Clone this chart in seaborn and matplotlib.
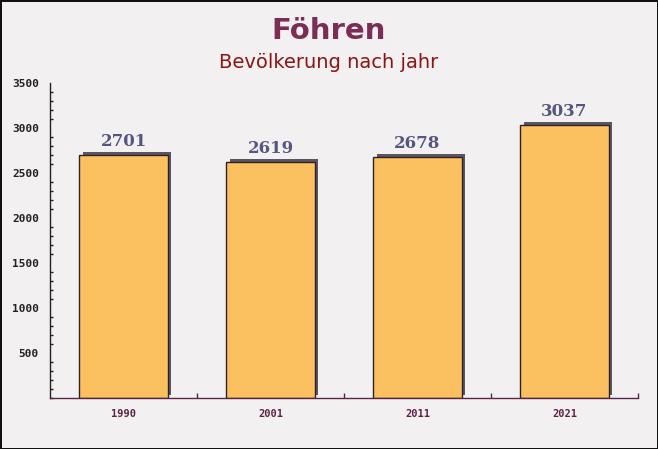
import matplotlib
matplotlib.use("Agg")
import matplotlib.pyplot as plt
import matplotlib.patheffects as pe
from matplotlib.ticker import MultipleLocator, FixedLocator
import pandas as pd
import seaborn as sns

years = ["1990", "2001", "2011", "2021"]
population = [2701, 2619, 2678, 3037]
y_ticks = [500, 1000, 1500, 2000, 2500, 3000, 3500]

title = "Föhren"
subtitle = "Bevölkerung nach jahr"

bg = "#f3f0f2"
bar_color = "#fbc060"
axis_color = "#5a2444"

df = pd.DataFrame({"jahr": years, "einwohner": population})

sns.set_style("white")
plt.rcParams["font.family"] = ["DejaVu Sans"]

fig = plt.figure(figsize=(6.58, 4.49), dpi=100)
fig.patch.set_facecolor(bg)
fig.patch.set_edgecolor("#111111")
fig.patch.set_linewidth(1.0)

ax = fig.add_axes([50 / 658, 51 / 449, 588 / 658, 315 / 449])
ax.set_facecolor("none")

sns.barplot(data=df, x="jahr", y="einwohner", color=bar_color, width=0.6,
            saturation=1, edgecolor="#2e2228", linewidth=1.0, ax=ax)

# drop shadow up and to the right of each bar
shadow = [pe.SimplePatchShadow(offset=(2.3, 2.2), shadow_rgbFace="#5a5560", alpha=1.0),
          pe.Normal()]
for bar in ax.patches:
    bar.set_path_effects(shadow)

for i, v in enumerate(population):
    ax.annotate(str(v), (i, v), xytext=(0, 3.5), textcoords="offset points",
                ha="center", va="bottom", fontsize=12, fontweight="bold",
                family="DejaVu Serif", color="#55557f")

ax.set_xlim(-0.5, len(years) - 0.5)
ax.set_ylim(0, 3500)
ax.yaxis.set_major_locator(FixedLocator(y_ticks))
ax.yaxis.set_minor_locator(MultipleLocator(100))
ax.tick_params(axis="y", which="major", direction="in", length=4, width=1,
               color="#222222", labelsize=8, labelcolor="#222222", pad=8)
ax.tick_params(axis="y", which="minor", direction="in", length=2.5, width=1,
               color="#222222", left=True)
for lab in ax.get_yticklabels():
    lab.set_family("DejaVu Sans Mono")
    lab.set_fontweight("bold")

ax.xaxis.set_minor_locator(FixedLocator([0.5, 1.5, 2.5, 3.5]))
ax.tick_params(axis="x", which="major", length=0, labelsize=7.5,
               labelcolor=axis_color, pad=8)
ax.tick_params(axis="x", which="minor", direction="in", length=3.5, width=1,
               color=axis_color, bottom=True)
for lab in ax.get_xticklabels():
    lab.set_family("DejaVu Sans Mono")
    lab.set_fontweight("bold")

ax.set_xlabel("")
ax.set_ylabel("")
for side in ["top", "right"]:
    ax.spines[side].set_visible(False)
ax.spines["left"].set_color("#222222")
ax.spines["bottom"].set_color(axis_color)
ax.spines["left"].set_linewidth(1)
ax.spines["bottom"].set_linewidth(1)

fig.text(0.5, 1 - 31 / 449, title, ha="center", va="center", fontsize=21,
         fontweight="bold", color="#7b2d55")
fig.text(0.5, 1 - 62 / 449, subtitle, ha="center", va="center", fontsize=14,
         color="#8b1414")

fig.savefig("out.png", dpi=100, facecolor=fig.get_facecolor(),
            edgecolor=fig.get_edgecolor())
